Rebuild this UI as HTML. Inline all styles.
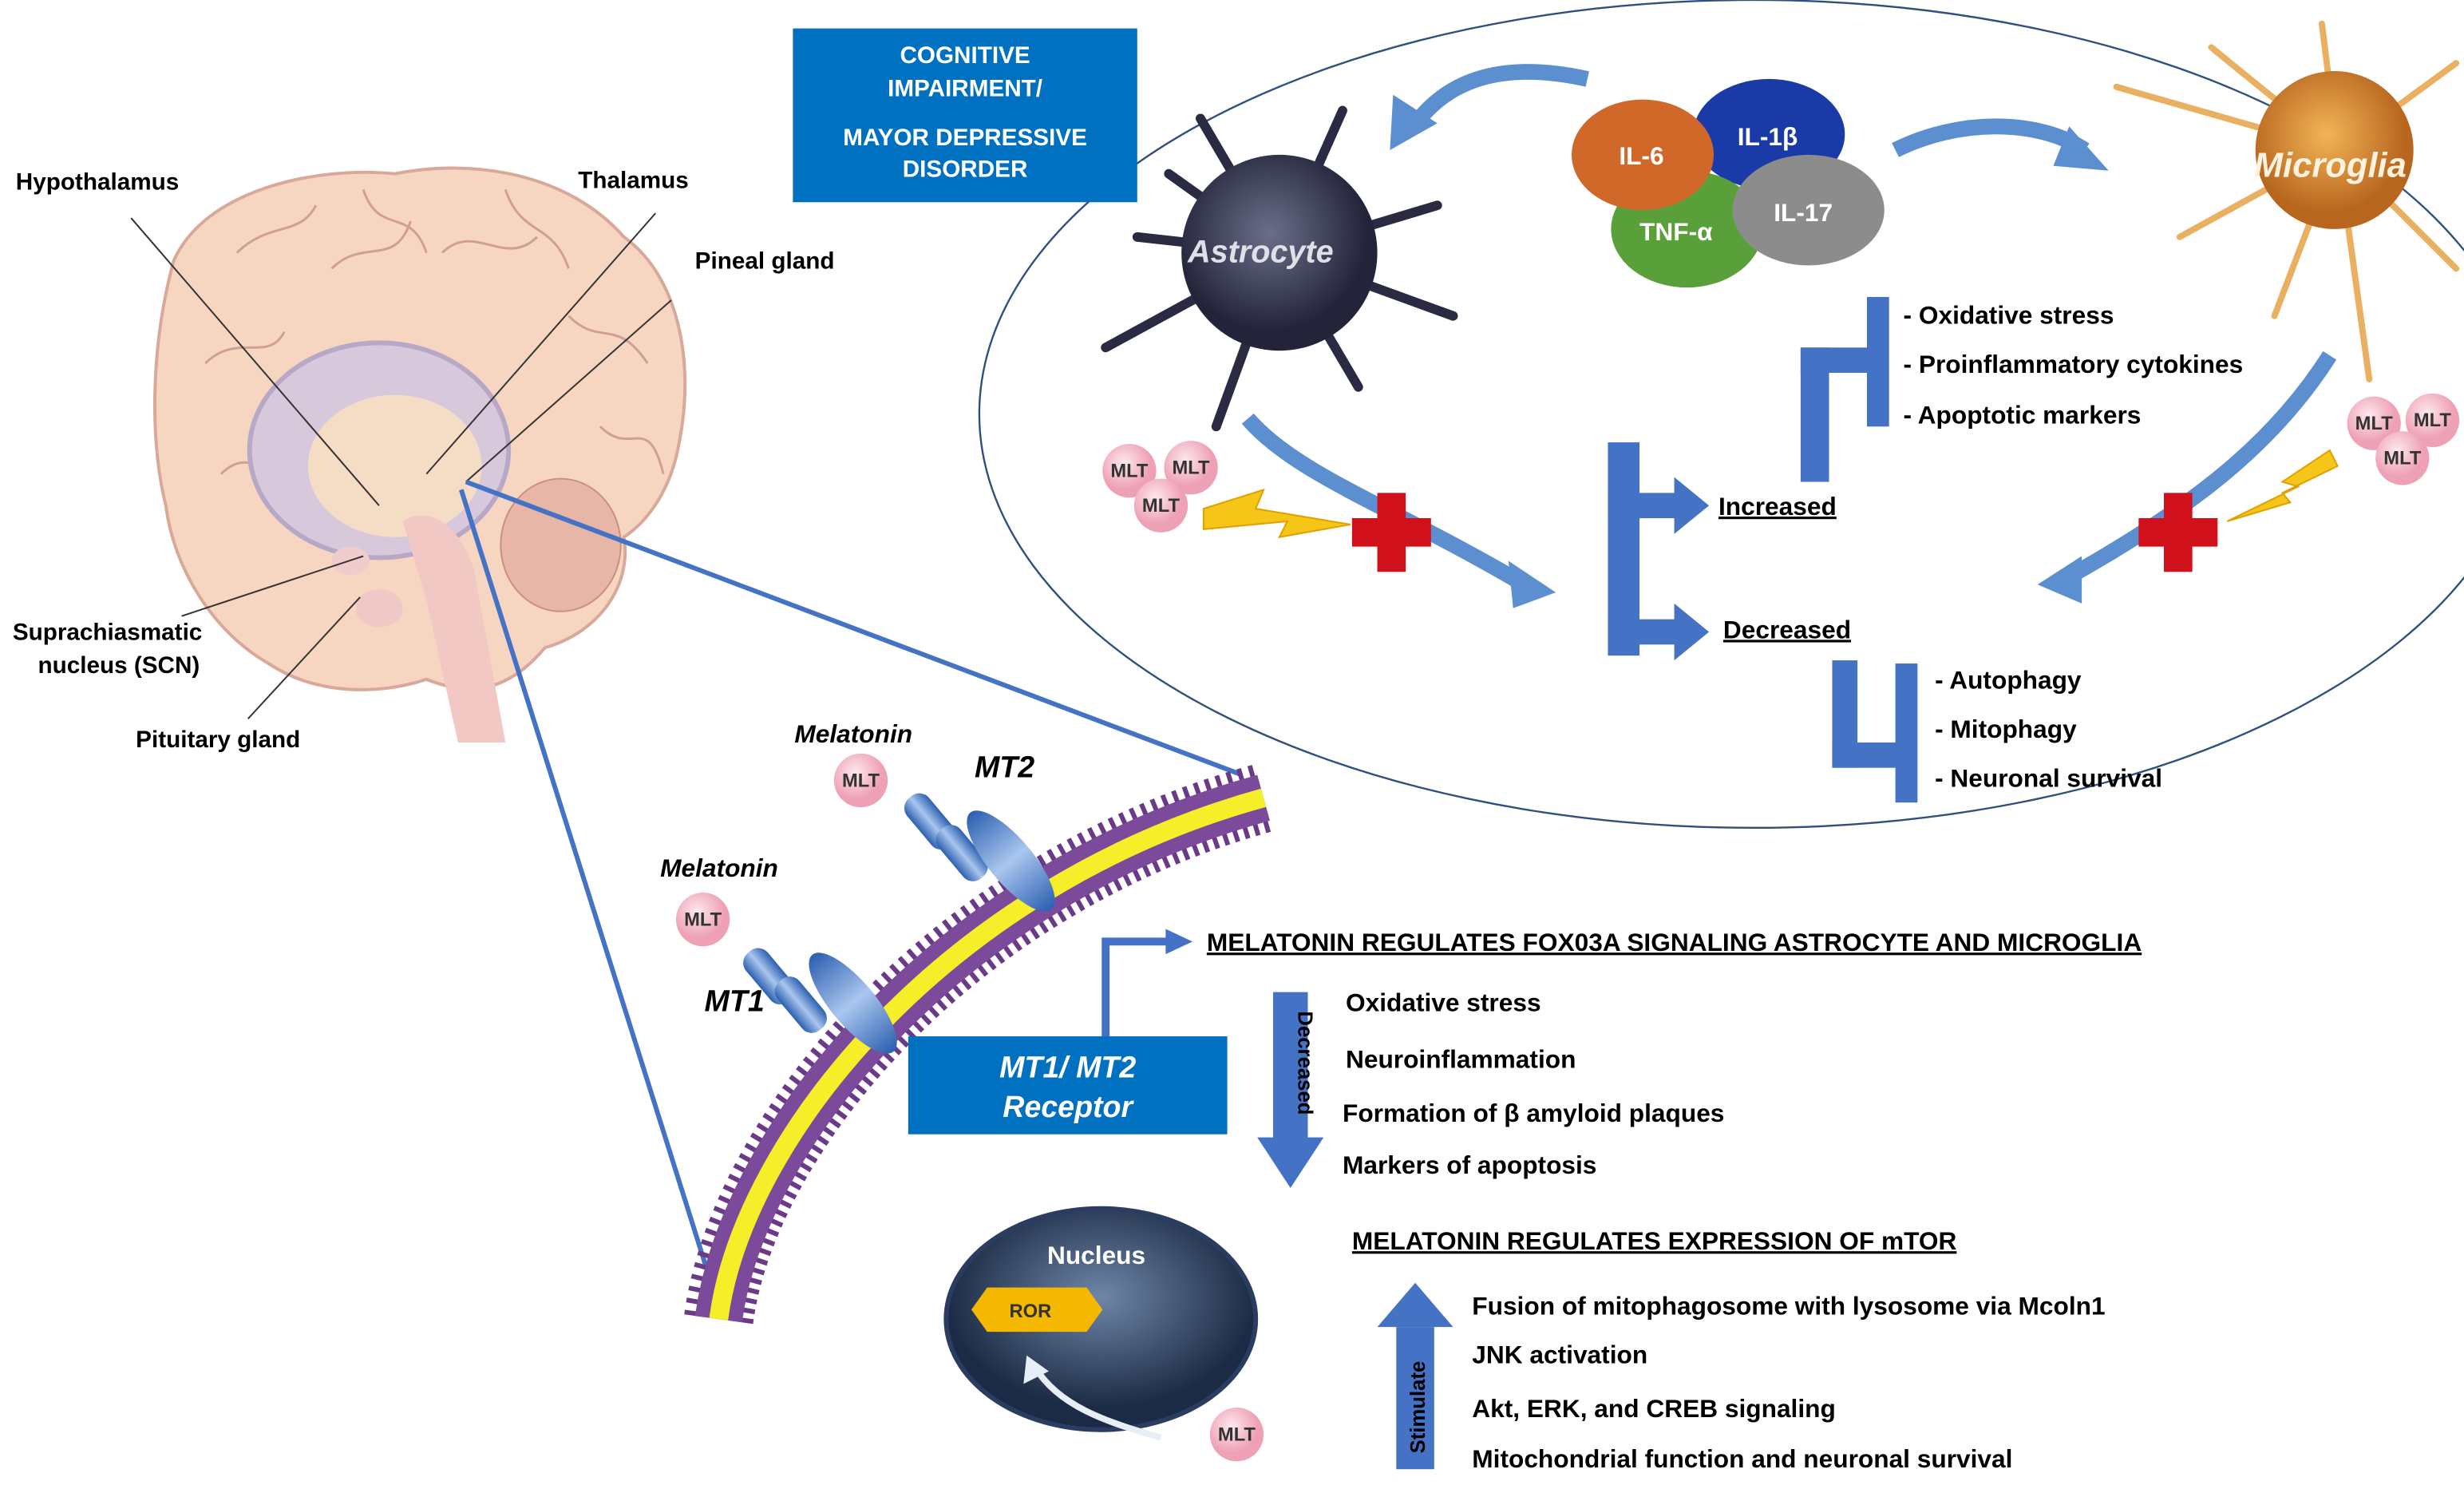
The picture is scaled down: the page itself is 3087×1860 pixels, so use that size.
<!DOCTYPE html>
<html><head><meta charset="utf-8"><style>
html,body{margin:0;padding:0;background:#fff;}
svg{display:block;}
text{font-family:"Liberation Sans",Arial,sans-serif;font-weight:bold;}
</style></head><body>
<svg width="3087" height="1860" viewBox="0 0 1560 940" preserveAspectRatio="none" xmlns="http://www.w3.org/2000/svg">
<defs>
<radialGradient id="pk" cx="40%" cy="35%"><stop offset="0" stop-color="#fde8ee"/><stop offset="1" stop-color="#eea0b4"/></radialGradient>
<radialGradient id="ast" cx="45%" cy="40%"><stop offset="0" stop-color="#6a6f88"/><stop offset="1" stop-color="#23243a"/></radialGradient>
<radialGradient id="mic" cx="45%" cy="40%"><stop offset="0" stop-color="#f2b457"/><stop offset="1" stop-color="#b8661e"/></radialGradient>
<radialGradient id="nuc" cx="50%" cy="40%"><stop offset="0" stop-color="#6f86a8"/><stop offset="1" stop-color="#1c2b45"/></radialGradient>
<linearGradient id="rec" x1="0" x2="1"><stop offset="0" stop-color="#2c5fb0"/><stop offset=".5" stop-color="#a9c6ee"/><stop offset="1" stop-color="#2c5fb0"/></linearGradient>
</defs>

<!-- Brain -->
<path d="M110,165 C130,120 200,105 250,110 C300,100 360,110 395,150 C430,175 440,230 430,280 C425,310 410,330 395,340 C400,370 380,400 345,410 C320,440 295,440 270,430 C240,440 200,440 170,420 C135,400 110,360 105,320 C95,280 95,220 110,165 Z" fill="#f6d6c0" stroke="#d8a89a" stroke-width="2"/>
<g stroke="#c8908a" stroke-width="1.5" fill="none" opacity=".8">
<path d="M150,160 C170,140 190,150 200,130 M210,170 C230,150 250,170 260,140 M280,160 C300,140 320,170 340,150 M130,230 C150,210 170,230 180,210 M360,200 C380,220 390,200 410,230 M140,300 C160,280 170,310 190,290 M380,270 C400,290 410,260 420,300 M230,120 C240,150 260,130 270,160 M320,120 C330,150 350,140 360,170"/>
</g>
<ellipse cx="240" cy="285" rx="82" ry="68" fill="#d8c8dc" stroke="#b8a8c8" stroke-width="3"/>
<ellipse cx="250" cy="295" rx="55" ry="45" fill="#f5ddc5"/>
<path d="M255,330 C270,320 290,330 300,360 L320,470 L290,470 L270,380 Z" fill="#f1c8c4"/>
<ellipse cx="240" cy="385" rx="15" ry="12" fill="#f0c8c8"/>
<ellipse cx="222" cy="355" rx="12" ry="9" fill="#f0cccc"/>
<ellipse cx="355" cy="345" rx="38" ry="42" fill="#e8b6a6" stroke="#c89080"/>
<g stroke="#333" stroke-width="1">
<line x1="83" y1="138" x2="240" y2="320"/>
<line x1="415" y1="135" x2="270" y2="300"/>
<line x1="425" y1="190" x2="295" y2="305"/>
<line x1="115" y1="390" x2="230" y2="352"/>
<line x1="157" y1="455" x2="228" y2="378"/>
</g>
<text x="10" y="120" font-size="15">Hypothalamus</text>
<text x="366" y="119" font-size="15">Thalamus</text>
<text x="440" y="170" font-size="15">Pineal gland</text>
<text x="8" y="405" font-size="15">Suprachiasmatic</text>
<text x="24" y="426" font-size="15">nucleus (SCN)</text>
<text x="86" y="473" font-size="15">Pituitary gland</text>

<!-- zoom lines -->
<g stroke="#4472c4" stroke-width="3">
<line x1="295" y1="305" x2="785" y2="490"/>
<line x1="292" y1="310" x2="448" y2="805"/>
</g>

<!-- big ellipse -->
<ellipse cx="1110" cy="262" rx="490" ry="262" fill="none" stroke="#2f4f7f" stroke-width="1.2"/>

<!-- blue box -->
<rect x="502" y="18" width="218" height="110" fill="#0070c0"/>
<g fill="#fff" font-size="15" text-anchor="middle">
<text x="611" y="40">COGNITIVE</text>
<text x="611" y="61">IMPAIRMENT/</text>
<text x="611" y="92">MAYOR DEPRESSIVE</text>
<text x="611" y="112">DISORDER</text>
</g>

<!-- astrocyte -->
<g stroke="#2a2b42" stroke-width="6" stroke-linecap="round">
<path d="M810,160 L720,150 M810,160 L760,75 M810,160 L850,70 M810,160 L910,130 M810,160 L920,200 M810,160 L860,245 M810,160 L770,270 M810,160 L700,220 M810,160 L740,110"/>
</g>
<circle cx="810" cy="160" r="62" fill="url(#ast)"/>
<text x="752" y="166" font-size="20" font-style="italic" fill="#e0e0e8" font-weight="normal">Astrocyte</text>

<!-- cytokines -->
<ellipse cx="1120" cy="85" rx="48" ry="35" fill="#1a3aa8"/>
<ellipse cx="1068" cy="145" rx="48" ry="37" fill="#5aa03a"/>
<ellipse cx="1040" cy="98" rx="45" ry="35" fill="#d0682a"/>
<ellipse cx="1145" cy="133" rx="48" ry="35" fill="#8c8c8c"/>
<g fill="#fff" font-size="16">
<text x="1025" y="104">IL-6</text>
<text x="1100" y="92">IL-1β</text>
<text x="1038" y="152">TNF-α</text>
<text x="1123" y="140">IL-17</text>
</g>

<!-- curved arrows -->
<g fill="none" stroke="#5b8fd0" stroke-width="10">
<path d="M1005,50 C960,40 920,45 895,80"/>
<path d="M1200,95 C1240,75 1290,75 1320,95"/>
<path d="M790,265 C820,300 880,320 965,370"/>
<path d="M1475,225 C1440,280 1390,320 1310,365"/>
</g>
<polygon points="880,95 882,60 910,78" fill="#5b8fd0"/>
<polygon points="1335,108 1310,80 1300,105" fill="#5b8fd0"/>
<polygon points="985,375 955,355 958,385" fill="#5b8fd0"/>
<polygon points="1290,370 1318,352 1318,382" fill="#5b8fd0"/>

<!-- microglia -->
<g stroke="#e8b060" stroke-width="4" stroke-linecap="round">
<path d="M1480,95 L1340,55 M1480,95 L1400,30 M1480,95 L1470,15 M1480,95 L1555,40 M1480,95 L1555,170 M1480,95 L1500,240 M1480,95 L1440,200 M1480,95 L1380,150"/>
</g>
<circle cx="1478" cy="95" r="50" fill="url(#mic)"/>
<text x="1427" y="112" font-size="22" font-style="italic" fill="#fff3e0" font-weight="normal">Microglia</text>

<!-- MLT clusters -->
<g font-size="12" fill="#333" text-anchor="middle">
<circle cx="715" cy="298" r="17" fill="url(#pk)"/><text x="715" y="302">MLT</text>
<circle cx="754" cy="296" r="17" fill="url(#pk)"/><text x="754" y="300">MLT</text>
<circle cx="735" cy="320" r="17" fill="url(#pk)"/><text x="735" y="324">MLT</text>
<circle cx="1503" cy="268" r="17" fill="url(#pk)"/><text x="1503" y="272">MLT</text>
<circle cx="1540" cy="266" r="17" fill="url(#pk)"/><text x="1540" y="270">MLT</text>
<circle cx="1521" cy="290" r="17" fill="url(#pk)"/><text x="1521" y="294">MLT</text>
<circle cx="545" cy="494" r="17" fill="url(#pk)"/><text x="545" y="498">MLT</text>
<circle cx="445" cy="582" r="17" fill="url(#pk)"/><text x="445" y="586">MLT</text>
<circle cx="783" cy="908" r="17" fill="url(#pk)"/><text x="783" y="912">MLT</text>
</g>

<!-- lightning -->
<polygon points="762,322 800,310 795,322 855,332 810,340 815,330 762,335" fill="#f5c518" stroke="#e0a000"/>
<polygon points="1475,285 1445,305 1455,308 1410,330 1450,318 1445,312 1480,295" fill="#f5c518" stroke="#e0a000"/>
<!-- red crosses -->
<g fill="#d0101a">
<path d="M872,312 h18 v16 h16 v18 h-16 v16 h-18 v-16 h-16 v-18 h16z"/>
<path d="M1370,312 h18 v16 h16 v18 h-16 v16 h-18 v-16 h-16 v-18 h16z"/>
</g>

<!-- brackets -->
<g fill="#4472c4">
<rect x="1018" y="280" width="20" height="135"/>
<rect x="1018" y="312" width="45" height="16"/>
<polygon points="1060,302 1082,320 1060,338"/>
<rect x="1018" y="392" width="45" height="16"/>
<polygon points="1060,382 1082,400 1060,418"/>
<rect x="1140" y="220" width="18" height="85"/>
<rect x="1140" y="220" width="45" height="16"/>
<rect x="1182" y="188" width="14" height="82"/>
<rect x="1160" y="418" width="16" height="68"/>
<rect x="1160" y="470" width="45" height="16"/>
<rect x="1200" y="420" width="14" height="88"/>
</g>
<text x="1088" y="326" font-size="16" text-decoration="underline">Increased</text>
<text x="1091" y="404" font-size="16" text-decoration="underline">Decreased</text>
<g font-size="16">
<text x="1205" y="205">-   Oxidative stress</text>
<text x="1205" y="236">-   Proinflammatory cytokines</text>
<text x="1205" y="268">-   Apoptotic markers</text>
<text x="1225" y="436">-   Autophagy</text>
<text x="1225" y="467">-   Mitophagy</text>
<text x="1225" y="498">-   Neuronal survival</text>
</g>

<!-- membrane -->
<g fill="none">
<path d="M455,835 C470,720 600,560 800,505" stroke="#6a3a88" stroke-width="44" stroke-dasharray="3 4"/>
<path d="M455,835 C470,720 600,560 800,505" stroke="#7b4a9a" stroke-width="30"/>
<path d="M455,835 C470,720 600,560 800,505" stroke="#f7ee2a" stroke-width="12"/>
</g>
<!-- receptors -->
<g fill="url(#rec)">
<rect x="580" y="500" width="18" height="40" rx="8" transform="rotate(-40 589 520)"/>
<rect x="600" y="520" width="18" height="40" rx="8" transform="rotate(-40 609 540)"/>
<ellipse cx="640" cy="545" rx="40" ry="14" transform="rotate(50 640 545)"/>
<rect x="478" y="598" width="18" height="40" rx="8" transform="rotate(-40 487 618)"/>
<rect x="498" y="616" width="18" height="40" rx="8" transform="rotate(-40 507 636)"/>
<ellipse cx="540" cy="635" rx="40" ry="14" transform="rotate(50 540 635)"/>
</g>
<g font-size="16" font-style="italic">
<text x="503" y="470">Melatonin</text>
<text x="418" y="555">Melatonin</text>
<text x="617" y="492" font-size="19">MT2</text>
<text x="446" y="640" font-size="19">MT1</text>
</g>

<!-- MT1/MT2 box -->
<rect x="575" y="656" width="202" height="62" fill="#0070c0"/>
<text x="676" y="682" font-size="19" font-style="italic" fill="#fff" text-anchor="middle">MT1/ MT2</text>
<text x="676" y="707" font-size="19" font-style="italic" fill="#fff" text-anchor="middle">Receptor</text>
<path d="M700,656 V596 H740" fill="none" stroke="#4472c4" stroke-width="5"/>
<polygon points="738,588 755,596 738,604" fill="#4472c4"/>

<text x="764" y="602" font-size="16" text-decoration="underline">MELATONIN REGULATES FOX03A SIGNALING ASTROCYTE AND MICROGLIA</text>
<rect x="806" y="628" width="22" height="95" fill="#4472c4"/>
<polygon points="796,720 838,720 817,752" fill="#4472c4"/>
<text transform="translate(822,640) rotate(90)" font-size="13" fill="#000">Decreased</text>
<g font-size="16">
<text x="852" y="640">Oxidative stress</text>
<text x="852" y="676">Neuroinflammation</text>
<text x="850" y="710">Formation of β amyloid plaques</text>
<text x="850" y="743">Markers of apoptosis</text>
</g>

<!-- nucleus -->
<ellipse cx="697" cy="835" rx="98" ry="70" fill="url(#nuc)" stroke="#2a3c60" stroke-width="3"/>
<text x="663" y="800" font-size="16" fill="#fff">Nucleus</text>
<polygon points="615,829 625,815 688,815 698,829 688,843 625,843" fill="#f5b800"/>
<text x="639" y="834" font-size="12" fill="#333">ROR</text>
<path d="M735,910 C700,900 670,890 655,865" fill="none" stroke="#e8eef8" stroke-width="4"/>
<polygon points="650,858 648,876 664,868" fill="#e8eef8"/>

<text x="856" y="791" font-size="16" text-decoration="underline">MELATONIN REGULATES EXPRESSION OF mTOR</text>
<rect x="884" y="840" width="24" height="90" fill="#4472c4"/>
<polygon points="872,840 920,840 896,812" fill="#4472c4"/>
<text transform="translate(902,920) rotate(-90)" font-size="13" fill="#000">Stimulate</text>
<g font-size="16">
<text x="932" y="832">Fusion of mitophagosome with lysosome via Mcoln1</text>
<text x="932" y="863">JNK activation</text>
<text x="932" y="897">Akt, ERK, and CREB signaling</text>
<text x="932" y="929">Mitochondrial function and neuronal survival</text>
</g>
</svg>
</body></html>
